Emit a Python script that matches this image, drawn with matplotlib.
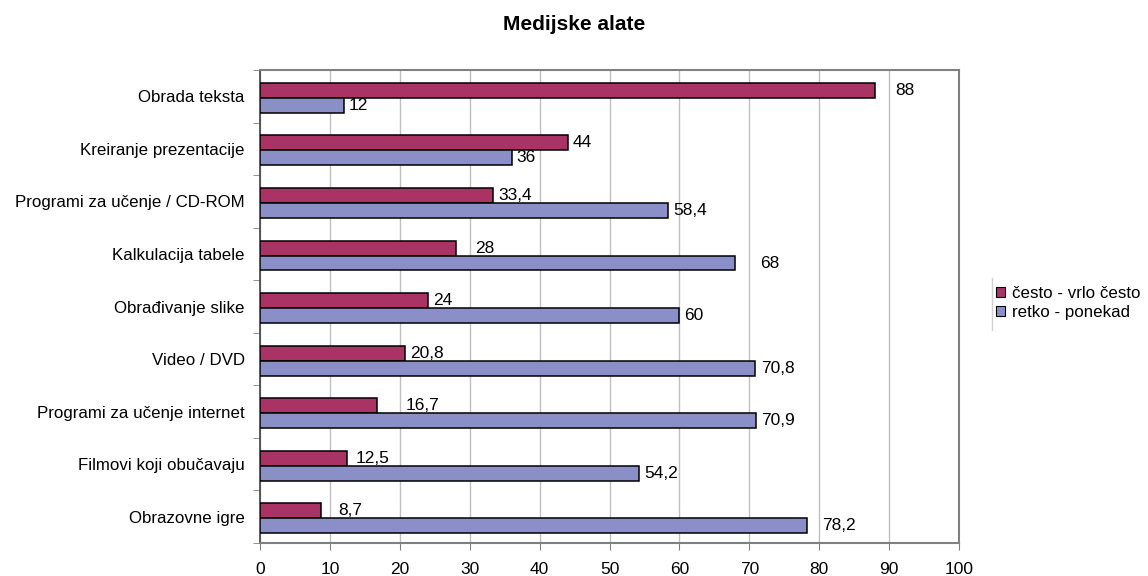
import matplotlib
matplotlib.use("Agg")
import matplotlib.pyplot as plt
from matplotlib.lines import Line2D
from matplotlib.patches import Patch

plt.rcParams["font.family"] = ["Liberation Sans", "DejaVu Sans"]

categories = [
    "Obrada teksta",
    "Kreiranje prezentacije",
    "Programi za učenje / CD-ROM",
    "Kalkulacija tabele",
    "Obrađivanje slike",
    "Video / DVD",
    "Programi za učenje internet",
    "Filmovi koji obučavaju",
    "Obrazovne igre",
]
often = [88, 44, 33.4, 28, 24, 20.8, 16.7, 12.5, 8.7]
rarely = [12, 36, 58.4, 68, 60, 70.8, 70.9, 54.2, 78.2]
series_names = ["često - vrlo često", "retko - ponekad"]
x_ticks = [0, 10, 20, 30, 40, 50, 60, 70, 80, 90, 100]

# label gaps in pixels, mimicking the original placement
often_gap = [20, 5, 5, 19, 5, 5, 29, 8, 17]
rarely_gap = [5, 5, 5, 25, 5, 6, 6, 5, 16]

PINK = "#AA3366"
BLUE = "#8A8FC8"
GRID = "#C0C0C0"
FRAME = "#808080"

fig = plt.figure(figsize=(11.48, 5.76), dpi=100)
ax = fig.add_axes([260 / 1148, 1 - 543 / 576, 699 / 1148, 473 / 576])

n = len(categories)
pos = [n - 1 - i for i in range(n)]
h = 0.285
ax.barh([p + h / 2 - 0.03 for p in pos], often, height=h, color=PINK,
        edgecolor="black", linewidth=1.1, zorder=3)
ax.barh([p - h / 2 - 0.03 for p in pos], rarely, height=h, color=BLUE,
        edgecolor="black", linewidth=1.1, zorder=3)

def fmt(v):
    return f"{v:g}".replace(".", ",")

for p, v, g in zip(pos, often, often_gap):
    ax.annotate(fmt(v), (v, p + h / 2 - 0.03), xytext=(g * 0.72, 0),
                textcoords="offset points", va="center", ha="left", fontsize=12.5)
for p, v, g in zip(pos, rarely, rarely_gap):
    ax.annotate(fmt(v), (v, p - h / 2 - 0.03), xytext=(g * 0.72, 0),
                textcoords="offset points", va="center", ha="left", fontsize=12.5)

ax.set_xlim(0, 100)
ax.set_ylim(-0.5, n - 0.5)
ax.set_xticks(x_ticks)
ax.set_xticklabels([str(t) for t in x_ticks], fontsize=12.5)
ax.set_yticks(pos)
ax.set_yticklabels(categories, fontsize=12.2)
ax.set_yticks([k + 0.5 for k in range(-1, n)], minor=True)
ax.tick_params(axis="y", which="major", length=0, pad=11)
ax.tick_params(axis="y", which="minor", length=5, color=FRAME, direction="out")
ax.tick_params(axis="x", length=5, color=FRAME, pad=9)
ax.xaxis.grid(True, color=GRID, linewidth=1, zorder=0)
ax.set_axisbelow(True)
for side in ["top", "right", "bottom"]:
    ax.spines[side].set_color(FRAME)
    ax.spines[side].set_linewidth(1.5)
ax.spines["left"].set_color("#404040")
ax.spines["left"].set_linewidth(1.2)

fig.text(0.5, 1 - 30 / 576, "Medijske alate", ha="center", va="baseline",
         fontsize=15, fontweight="bold")

handles = [Patch(facecolor=PINK, edgecolor="black", linewidth=0.8),
           Patch(facecolor=BLUE, edgecolor="black", linewidth=0.8)]
fig.legend(handles, series_names, loc="center left",
           bbox_to_anchor=(996 / 1148, 1 - 303 / 576), frameon=False,
           fontsize=12.2, handlelength=0.55, handleheight=0.55, handletextpad=0.4,
           labelspacing=0.25, borderaxespad=0, borderpad=0)
fig.add_artist(Line2D([992 / 1148, 992 / 1148], [1 - 278 / 576, 1 - 330 / 576],
                      color="#D0D0D0", linewidth=1))

fig.savefig("out.png", dpi=100)
